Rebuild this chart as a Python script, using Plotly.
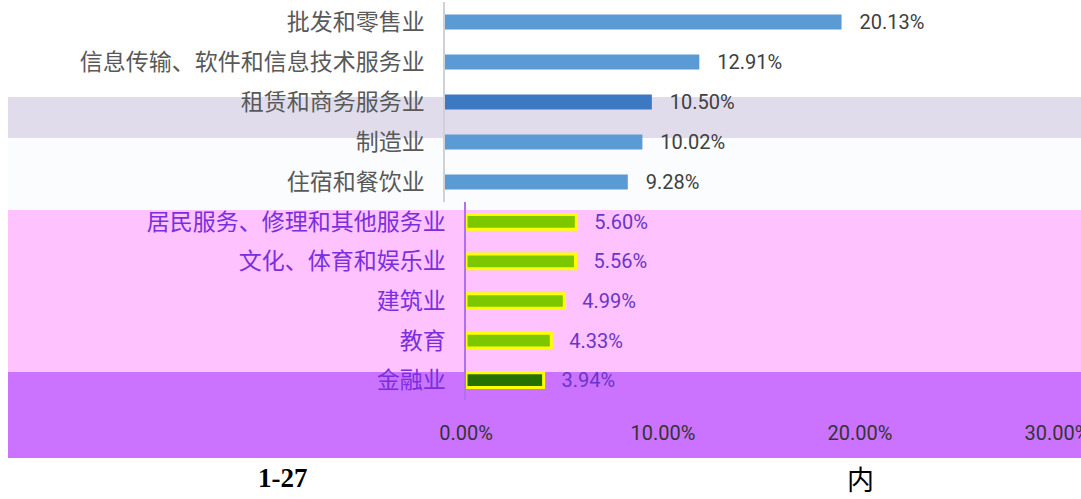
import plotly.graph_objects as go

top_categories = ["批发和零售业", "信息传输、软件和信息技术服务业", "租赁和商务服务业", "制造业", "住宿和餐饮业"]
top_values = [20.13, 12.91, 10.50, 10.02, 9.28]
bottom_categories = ["居民服务、修理和其他服务业", "文化、体育和娱乐业", "建筑业", "教育", "金融业"]
bottom_values = [5.60, 5.56, 4.99, 4.33, 3.94]
x_ticks = [0, 10, 20, 30]
x_tick_labels = ["0.00%", "10.00%", "20.00%", "30.00%"]

W, H = 1081, 499
def px(x):
    return x / W
def py(y):
    return 1 - y / H

top_colors = ["#5B9BD5", "#5B9BD5", "#3D78C2", "#5B9BD5", "#5B9BD5"]
bottom_colors = ["#7DC700", "#7DC700", "#7DC700", "#7DC700", "#267000"]
pad = "\u00a0\u00a0\u00a0"

fig = go.Figure()
fig.add_trace(go.Bar(
    y=top_categories, x=top_values, orientation="h",
    marker=dict(color=top_colors, line=dict(width=0)),
    width=0.37,
    texttemplate=pad + "%{x:.2f}%", textposition="outside", constraintext="none",
    textfont=dict(size=20, color="#404040", family="Roboto"),
    cliponaxis=False, xaxis="x", yaxis="y", showlegend=False,
))
fig.add_trace(go.Bar(
    y=bottom_categories, x=bottom_values, orientation="h",
    marker=dict(color=bottom_colors, line=dict(width=3, color="#FFFF00")),
    width=0.37,
    texttemplate=pad + "%{x:.2f}%", textposition="outside", constraintext="none",
    textfont=dict(size=20, color="#6A35C8", family="Roboto"),
    cliponaxis=False, xaxis="x2", yaxis="y2", showlegend=False,
))

scale = 19.7
top_x0 = 445
bot_x0 = 466
fig.update_layout(
    width=W, height=H,
    margin=dict(l=0, r=0, t=0, b=0, autoexpand=False),
    paper_bgcolor="white", plot_bgcolor="rgba(0,0,0,0)",
    font=dict(family="Noto Sans CJK SC"),
    xaxis=dict(domain=[px(top_x0), px(top_x0 + 30 * scale)], range=[0, 30],
               anchor="y", showgrid=False, zeroline=False, showticklabels=False,
               automargin=False),
    yaxis=dict(domain=[py(202), py(2)], anchor="x", autorange="reversed",
               showline=True, linecolor="#D0D0D8", linewidth=1.5,
               ticks="outside", ticklen=14, tickcolor="rgba(0,0,0,0)",
               tickfont=dict(size=23, color="#595959", family="Noto Sans CJK SC"),
               showgrid=False, automargin=False),
    xaxis2=dict(domain=[px(bot_x0), px(bot_x0 + 30 * scale)], range=[0, 30],
                anchor="y2", showgrid=False, zeroline=False,
                tickvals=x_ticks, ticktext=x_tick_labels,
                ticks="outside", ticklen=15, tickcolor="rgba(0,0,0,0)",
                tickfont=dict(size=20, color="#333333", family="Roboto"),
                ticklabeloverflow="allow", automargin=False),
    yaxis2=dict(domain=[py(400), py(202)], anchor="x2", autorange="reversed",
                showline=True, linecolor="#B070F0", linewidth=1.5,
                ticks="outside", ticklen=14, tickcolor="rgba(0,0,0,0)",
                tickfont=dict(size=23, color="#7A2EE0", family="Noto Sans CJK SC"),
                showgrid=False, automargin=False),
)

bands = [
    (97, 138, "#E0DCEC"),
    (138, 210, "#FAFCFE"),
    (210, 372, "#FEC2FE"),
    (372, 458, "#CB73FE"),
]
for y0, y1, c in bands:
    fig.add_shape(type="rect", xref="paper", yref="paper",
                  x0=px(8), x1=1, y0=py(y1), y1=py(y0),
                  fillcolor=c, line=dict(width=0), layer="below")

fig.add_annotation(x=px(283), y=py(478), xref="paper", yref="paper",
                   xanchor="center", yanchor="middle",
                   text="<b>1-27</b>", showarrow=False,
                   font=dict(size=27, family="Liberation Serif", color="#000000"))
fig.add_annotation(x=px(860), y=py(478), xref="paper", yref="paper",
                   xanchor="center", yanchor="middle",
                   text="内", showarrow=False,
                   font=dict(size=27, family="Noto Sans CJK SC", color="#000000"))

fig.write_html("out.html", config={"displayModeBar": False},
               post_script="document.body.style.margin='0';document.body.style.overflow='hidden';")
